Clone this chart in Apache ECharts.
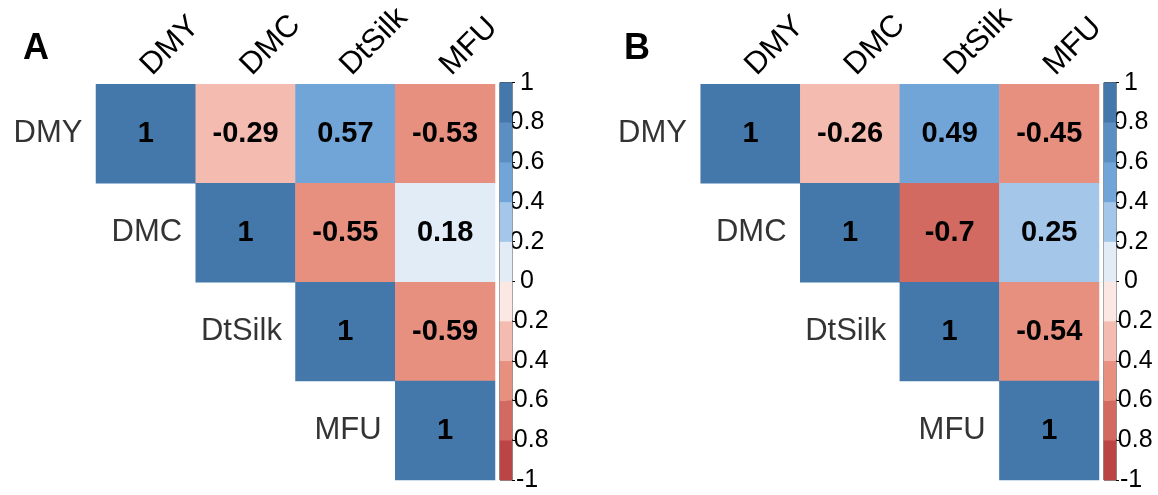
<!DOCTYPE html>
<html>
<head>
<meta charset="utf-8">
<script src="https://cdn.jsdelivr.net/npm/echarts@6/dist/echarts.min.js"></script>
<style>
  html, body { margin: 0; padding: 0; background: #fff; }
  #chart { width: 1158px; height: 495px; }
</style>
</head>
<body>
<div id="chart"></div>
<script>
// 相关性热图 A / B
const vars = ["DMY", "DMC", "DtSilk", "MFU"];

// upper triangle, row by row (null = empty)
const corrA = [
  [1, -0.29, 0.57, -0.53],
  [null, 1, -0.55, 0.18],
  [null, null, 1, -0.59],
  [null, null, null, 1]
];
const corrB = [
  [1, -0.26, 0.49, -0.45],
  [null, 1, -0.7, 0.25],
  [null, null, 1, -0.54],
  [null, null, null, 1]
];

// colour bar: bin edges, bin centres, bin colours
const binEdges = [-1, -0.8, -0.6, -0.4, -0.2, 0, 0.2, 0.4, 0.6, 0.8, 1];
const binMids = [-0.9, -0.7, -0.5, -0.3, -0.1, 0.1, 0.3, 0.5, 0.7, 0.9];
const binColors = [
  "#BB4444", "#D26A62", "#E89080", "#F4BBB0", "#FBE8E5",
  "#E1ECF7", "#A4C6E8", "#71A4D7", "#5B8EC1", "#4477AA"
];

const FONT = "'Liberation Sans', Arial, sans-serif";

function cells(m) {
  const out = [];
  m.forEach((row, r) => {
    row.forEach((v, c) => {
      if (v !== null) out.push([c, r, v]);
    });
  });
  return out;
}
function diag() {
  return vars.map((v, i) => [i, i]);
}

const chart = echarts.init(document.getElementById("chart"));

const panels = [
  { left: 96, width: 399, barLeft: 500 },
  { left: 700.7, width: 398.3, barLeft: 1104 }
];
const TOP = 82.7;
const HEIGHT = 397.3;

const grid = [];
const xAxis = [];
const yAxis = [];
const series = [];

panels.forEach((p, k) => {
  const gMain = k * 2;
  const gBar = k * 2 + 1;
  grid.push({ left: p.left, top: TOP, width: p.width, height: HEIGHT });
  grid.push({
    left: p.barLeft, top: TOP, width: 12, height: HEIGHT,
    show: true, borderColor: "#222", borderWidth: 1, backgroundColor: "transparent"
  });

  xAxis.push({
    type: "category", gridIndex: gMain, data: vars, position: "top",
    axisLine: { show: false }, axisTick: { show: false }, splitLine: { show: false },
    axisLabel: { rotate: -45, margin: 14, fontSize: 31, color: "#000", fontFamily: FONT, interval: 0 }
  });
  xAxis.push({ type: "category", gridIndex: gBar, data: ["c"], show: false });

  const yMain = yAxis.length;
  yAxis.push({ type: "category", gridIndex: gMain, data: vars, inverse: true, show: false });
  const yBar = yAxis.length;
  yAxis.push({ type: "category", gridIndex: gBar, data: binMids, show: false });
  yAxis.push({
    type: "value", gridIndex: gBar, position: "right", min: -1, max: 1, interval: 0.2,
    axisLine: { show: false }, splitLine: { show: false },
    axisTick: { show: true, length: 3, lineStyle: { color: "#000", width: 1 } },
    axisLabel: { margin: 15, align: "center", fontSize: 25, color: "#000", fontFamily: FONT }
  });

  series.push({
    type: "heatmap", xAxisIndex: gMain, yAxisIndex: yMain,
    data: cells(k === 0 ? corrA : corrB),
    label: {
      show: true, fontSize: 29, fontWeight: "bold", color: "#000", fontFamily: FONT,
      formatter: (d) => String(d.value[2])
    },
    itemStyle: { borderWidth: 0 },
    emphasis: { disabled: true }
  });
  series.push({
    type: "heatmap", xAxisIndex: gBar, yAxisIndex: yBar,
    data: binMids.map((v, i) => [0, i, v]),
    label: { show: false },
    emphasis: { disabled: true }
  });
});

// row names beside the diagonal
panels.forEach((p, k) => {
  series.push({
    type: "scatter", xAxisIndex: k * 2, yAxisIndex: k * 3,
    data: diag(), symbolSize: 1, itemStyle: { color: "transparent" },
    silent: true,
    label: {
      show: true, position: "left", distance: 63, fontSize: 31, color: "#000", fontFamily: FONT,
      formatter: (d) => vars[d.value[1]]
    }
  });
});

const pieces = binColors.map((c, i) => ({ min: binEdges[i], max: binEdges[i + 1], color: c }));

chart.setOption({
  animation: false,
  textStyle: { fontFamily: FONT },
  title: [
    { text: "A", left: 18, top: 26, textStyle: { fontSize: 36, fontWeight: "bold", color: "#000", fontFamily: FONT } },
    { text: "B", left: 619, top: 26, textStyle: { fontSize: 36, fontWeight: "bold", color: "#000", fontFamily: FONT } }
  ],
  visualMap: {
    type: "piecewise", show: false, dimension: 2, seriesIndex: [0, 1, 2, 3],
    pieces: pieces
  },
  grid: grid,
  xAxis: xAxis,
  yAxis: yAxis,
  series: series
});
</script>
</body>
</html>
